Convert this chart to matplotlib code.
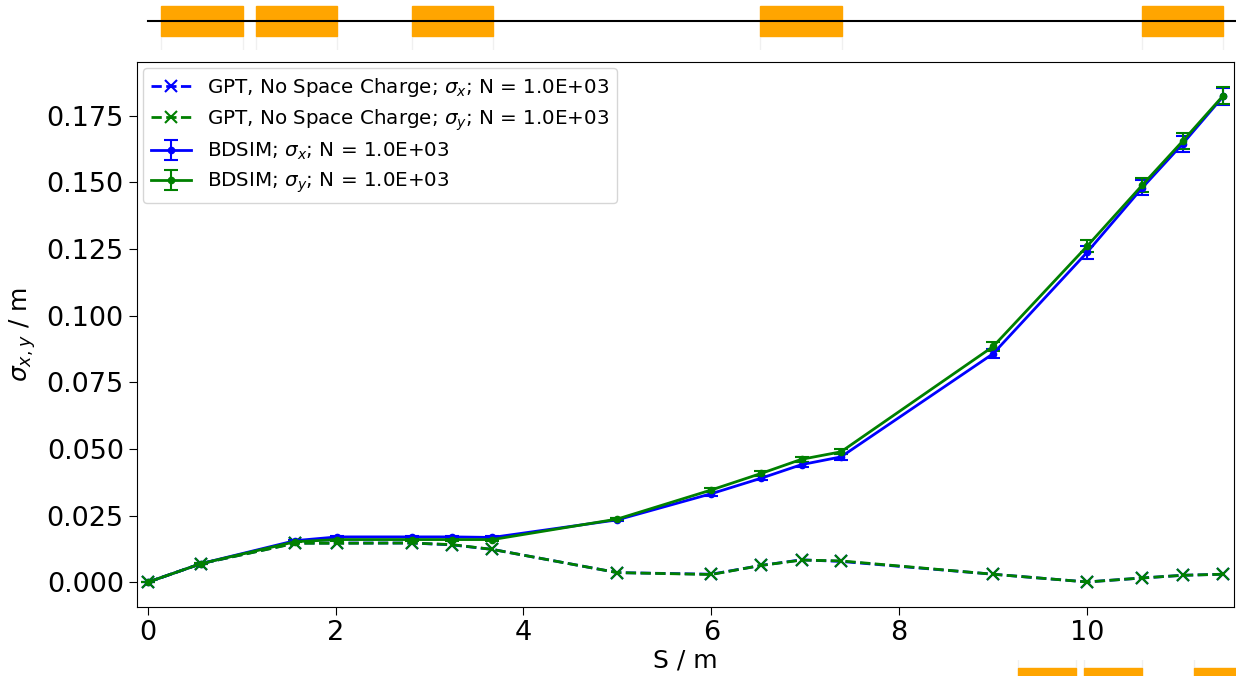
import numpy as np
import matplotlib
matplotlib.use("Agg")
import matplotlib.pyplot as plt
from matplotlib.patches import Rectangle

# ---- data ------------------------------------------------------------------
S = [0.0, 0.57, 1.57, 2.02, 2.81, 3.24, 3.67, 5.0, 6.0, 6.53, 6.96, 7.38,
     9.0, 10.0, 10.59, 11.02, 11.45]

gpt_sx = [0.0, 0.0070, 0.0147, 0.0147, 0.0147, 0.0140, 0.0123, 0.0036, 0.0030,
          0.0063, 0.0084, 0.0078, 0.0030, 0.0001, 0.0016, 0.0026, 0.0030]
gpt_sy = [0.0, 0.0070, 0.0146, 0.0146, 0.0147, 0.0141, 0.0123, 0.0036, 0.0029,
          0.0063, 0.0083, 0.0080, 0.0030, 0.0001, 0.0016, 0.0026, 0.0030]

bd_sx = [0.0, 0.0070, 0.0156, 0.0170, 0.0170, 0.0170, 0.0168, 0.0234, 0.0332,
         0.0390, 0.0441, 0.0470, 0.0857, 0.1237, 0.1480, 0.1645, 0.1822]
bd_sy = [0.0, 0.0070, 0.0152, 0.0160, 0.0160, 0.0160, 0.0160, 0.0237, 0.0346,
         0.0408, 0.0461, 0.0489, 0.0884, 0.1260, 0.1490, 0.1655, 0.1825]
bd_sx_err = [0.0, 0.0002, 0.0003, 0.0004, 0.0004, 0.0004, 0.0004, 0.0005, 0.0007,
             0.0008, 0.0009, 0.0010, 0.0016, 0.0023, 0.0027, 0.0030, 0.0033]
bd_sy_err = [0.0, 0.0002, 0.0003, 0.0004, 0.0004, 0.0004, 0.0004, 0.0005, 0.0007,
             0.0008, 0.0009, 0.0010, 0.0016, 0.0023, 0.0027, 0.0030, 0.0033]

# machine diagram: element start and length (m)
elem_start = [0.14, 1.15, 2.81, 6.52, 10.58]
elem_len = [0.87, 0.87, 0.87, 0.87, 0.87]
beamline_end = 11.65

# fragment of the next figure's machine diagram, visible at the bottom
frag_start = [9.26, 9.97, 11.14]
frag_len = [0.62, 0.61, 0.62]

ORANGE = "#FFA500"
W, H = 1236, 676
fig = plt.figure(figsize=(W / 100, H / 100), dpi=100)

# ---- main axes ---------------------------------------------------------------
ax = fig.add_axes([137 / W, (H - 607) / H, (1234 - 137) / W, (607 - 62) / H])
ax.plot(S, gpt_sx, ls="--", marker="x", color="b", lw=2, ms=9, mew=1.5,
        label=r"GPT, No Space Charge; $\sigma_x$; N = 1.0E+03")
ax.plot(S, gpt_sy, ls="--", marker="x", color="g", lw=2, ms=9, mew=1.5,
        label=r"GPT, No Space Charge; $\sigma_y$; N = 1.0E+03")
ax.errorbar(S, bd_sx, yerr=bd_sx_err, fmt=".-", color="b", lw=2, ms=9,
            capsize=5, capthick=1.5, elinewidth=1.5,
            label=r"BDSIM; $\sigma_x$; N = 1.0E+03")
ax.errorbar(S, bd_sy, yerr=bd_sy_err, fmt=".-", color="g", lw=2, ms=9,
            capsize=5, capthick=1.5, elinewidth=1.5,
            label=r"BDSIM; $\sigma_y$; N = 1.0E+03")

ax.margins(x=0.01)
xlim = ax.get_xlim()
ax.tick_params(labelsize=19.5, length=6)
ax.set_xlabel("S / m", fontsize=18, labelpad=2)
ax.set_ylabel(r"$\sigma_{x,y}$ / m", fontsize=18, labelpad=6)
ax.legend(loc="upper left", fontsize=14.3, handlelength=2.0,
          borderaxespad=0.3, labelspacing=0.42)

# ---- machine diagram above ---------------------------------------------------
axm = fig.add_axes([137 / W, (H - 50) / H, (1234 - 137) / W, 50 / H])
axm.set_ylim(-0.58, 0.42)
axm.axis("off")
axm.plot([0, beamline_end], [0, 0], color="k", lw=1.5, zorder=3, clip_on=False)
for s0, L in zip(elem_start, elem_len):
    axm.add_patch(Rectangle((s0, -0.3), L, 0.6, color=ORANGE, zorder=2))
    for xe in (s0, s0 + L):
        axm.plot([xe, xe], [-0.3, -0.56], color="#f0f0f0", lw=1, zorder=1)
axm.set_xlim(xlim)

# ---- fragment of diagram below (cut off) ------------------------------------
axb = fig.add_axes([137 / W, (H - 700) / H, (1234 - 137) / W, 40 / H])
axb.set_ylim(-1, 1)
axb.axis("off")
for s0, L in zip(frag_start, frag_len):
    axb.add_patch(Rectangle((s0, -0.6), L, 1.2, color=ORANGE, zorder=2,
                            clip_on=False))
    for xe in (s0, s0 + L):
        axb.plot([xe, xe], [0.6, 1.0], color="#f0f0f0", lw=1, zorder=1)
axb.set_xlim(xlim)
ax.set_xlim(xlim)

fig.savefig("out.png", dpi=100)
